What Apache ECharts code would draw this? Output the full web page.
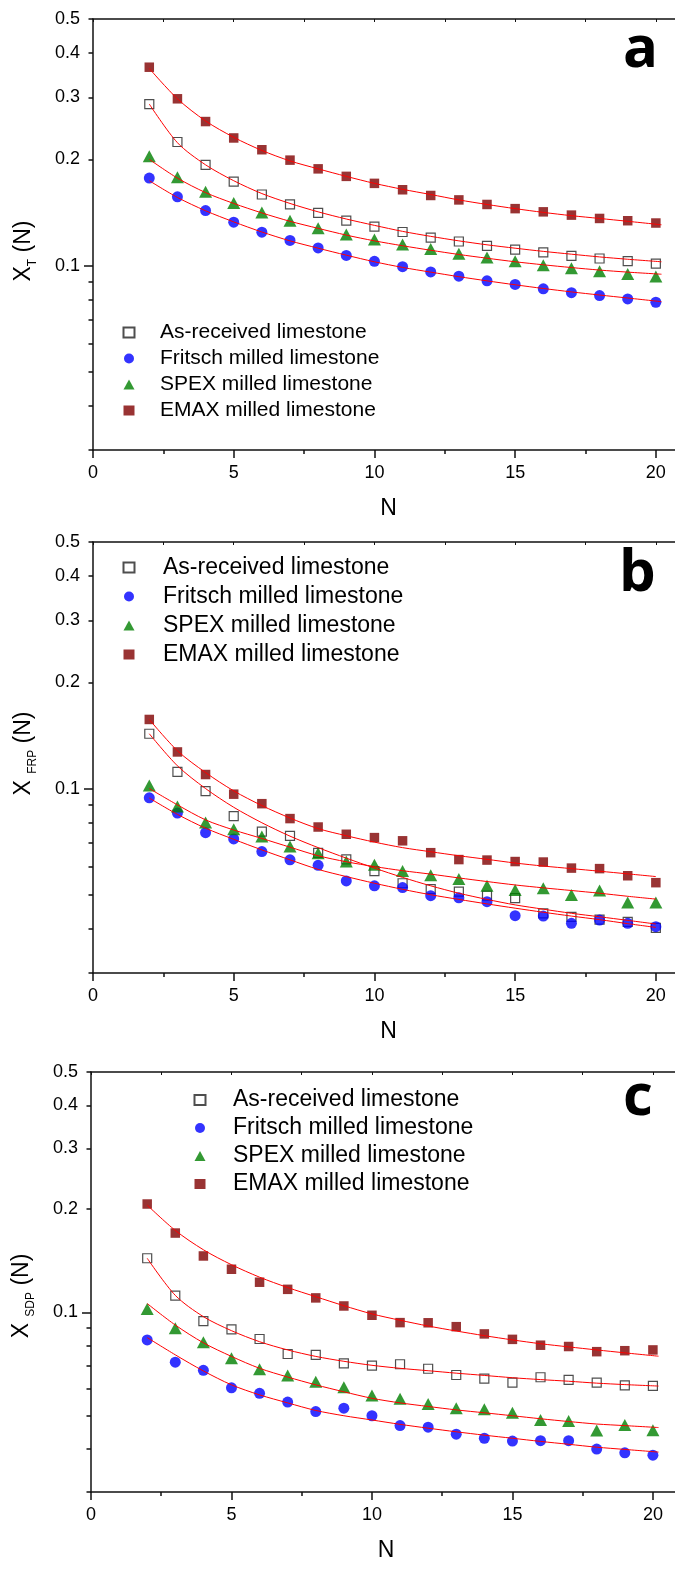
<!DOCTYPE html>
<html>
<head>
<meta charset="utf-8">
<script src="https://cdn.jsdelivr.net/npm/echarts@6/dist/echarts.min.js"></script>
<style>html,body{margin:0;padding:0;background:#fff}#chart{width:675px;height:1577px}</style>
</head>
<body>
<div id="chart"></div>
<script>
// ---------------- DATA ----------------
const N = [2,3,4,5,6,7,8,9,10,11,12,13,14,15,16,17,18,19,20];
const seriesNames = ['As-received limestone','Fritsch milled limestone','SPEX milled limestone','EMAX milled limestone'];
const yTickLabels = [0.1,0.2,0.3,0.4,0.5];
const yMajorTicks = [0.1];
const yMinorTicks = [0.03,0.04,0.05,0.06,0.07,0.08,0.09,0.2,0.3,0.4,0.5];
const yNames = ['{x|X}{s|T}{x| (N)}', '{x|X }{s|FRP}{x| (N)}', '{x|X }{s|SDP}{x| (N)}'];
const panelLetters = ['a','b','c'];

// Panel a: X_T(N)
const asReceivedA = [0.287,0.224,0.193,0.173,0.159,0.149,0.141,0.134,0.129,0.1245,0.120,0.117,0.1137,0.111,0.109,0.1065,0.1047,0.103,0.1013];
const fritschA    = [0.177,0.1566,0.1432,0.1327,0.1243,0.1178,0.1122,0.1068,0.1028,0.0993,0.0959,0.0933,0.0905,0.0884,0.0859,0.0838,0.0822,0.0804,0.0787];
const spexA       = [0.204,0.178,0.162,0.1505,0.1414,0.134,0.1276,0.1225,0.1186,0.1147,0.1115,0.108,0.1054,0.1028,0.1002,0.0982,0.0963,0.0946,0.0931];
const emaxA       = [0.365,0.297,0.256,0.230,0.213,0.199,0.188,0.179,0.171,0.164,0.158,0.1535,0.149,0.145,0.142,0.139,0.136,0.134,0.132];
const fitNA  = [2,3,4,5,6,7,8,9,10,11,12,13,14,15,16,17,18,19,20.2];
const fitAsA = [0.287,0.223,0.193,0.174,0.160,0.150,0.142,0.1355,0.130,0.125,0.121,0.1175,0.1145,0.112,0.1097,0.1077,0.1058,0.1042,0.1025];
const fitFrA = [0.174,0.156,0.143,0.133,0.1245,0.1175,0.112,0.107,0.1025,0.0988,0.0958,0.093,0.0905,0.0882,0.0861,0.0842,0.0825,0.0809,0.0790];
const fitSpA = [0.200,0.177,0.161,0.150,0.141,0.1335,0.1275,0.122,0.1175,0.1138,0.1105,0.1075,0.1049,0.1025,0.1005,0.0987,0.0971,0.0958,0.0945];
const fitEmA = [0.362,0.297,0.257,0.231,0.212,0.198,0.188,0.179,0.171,0.1645,0.159,0.1535,0.149,0.145,0.1415,0.1385,0.136,0.1335,0.1305];

// Panel b: X_FRP(N)
const asReceivedB = [0.143,0.1115,0.0983,0.0835,0.0755,0.0734,0.0657,0.063,0.0583,0.0539,0.0519,0.051,0.0497,0.0489,0.0443,0.0433,0.0425,0.0419,0.0403];
const fritschB    = [0.0941,0.0852,0.075,0.072,0.0663,0.0628,0.0606,0.0547,0.053,0.0524,0.0497,0.049,0.0478,0.0436,0.0435,0.0415,0.0424,0.0415,0.0406];
const spexB       = [0.102,0.0889,0.0801,0.0767,0.0731,0.0685,0.0656,0.0621,0.0608,0.0584,0.0568,0.0554,0.053,0.0516,0.0522,0.0499,0.0514,0.0475,0.0475];
const emaxB       = [0.157,0.127,0.1096,0.0964,0.0906,0.0822,0.0778,0.0742,0.0726,0.0711,0.0658,0.0629,0.0627,0.0621,0.0619,0.0595,0.0593,0.0566,0.0541];
const fitNB  = [2,3,4,5,6,7,8,9,10,11,12,13,14,15,16,17,18,19,20];
const fitAsB = [0.143,0.116,0.100,0.0885,0.080,0.0733,0.068,0.0635,0.0595,0.056,0.053,0.0505,0.0485,0.0468,0.0455,0.0443,0.0433,0.0423,0.0413];
const fitFrB = [0.094,0.0845,0.0772,0.0718,0.067,0.0628,0.059,0.0563,0.0539,0.0518,0.050,0.0485,0.0471,0.0458,0.0446,0.0435,0.0425,0.0414,0.0404];
const fitSpB = [0.100,0.0899,0.0815,0.0763,0.0722,0.0682,0.0645,0.062,0.0601,0.0585,0.0572,0.0558,0.0545,0.0533,0.0523,0.0514,0.0505,0.0495,0.0486];
const fitEmB = [0.157,0.128,0.111,0.0985,0.0895,0.0825,0.077,0.0735,0.0705,0.068,0.0662,0.0645,0.063,0.0615,0.0603,0.0593,0.0583,0.0573,0.0563];

// Panel c: X_SDP(N)
const asReceivedC = [0.1436,0.1118,0.0943,0.0892,0.0836,0.0756,0.0752,0.071,0.0699,0.0706,0.0685,0.0657,0.0641,0.0624,0.0647,0.0636,0.0624,0.0613,0.0611];
const fritschC    = [0.0831,0.0716,0.0678,0.0603,0.0581,0.0548,0.0514,0.0526,0.05,0.0468,0.0463,0.0442,0.043,0.0422,0.0423,0.0423,0.04,0.039,0.0384];
const spexC       = [0.1022,0.0898,0.0818,0.0735,0.0683,0.0655,0.0628,0.0605,0.0573,0.056,0.0541,0.0526,0.0522,0.051,0.0486,0.0483,0.0453,0.047,0.0454];
const emaxC       = [0.2065,0.170,0.1458,0.1334,0.1223,0.1166,0.1101,0.1043,0.098,0.0933,0.0932,0.0908,0.0865,0.0834,0.0802,0.0795,0.0768,0.0773,0.0777];
const fitNC  = [2,3,4,5,6,7,8,9,10,11,12,13,14,15,16,17,18,19,20.2];
const fitAsC = [0.1436,0.112,0.0971,0.0884,0.0821,0.0777,0.0744,0.072,0.0701,0.0687,0.0676,0.0665,0.0655,0.0645,0.0637,0.063,0.0622,0.0616,0.061];
const fitFrC = [0.0844,0.0752,0.0675,0.0615,0.0575,0.0545,0.0518,0.050,0.0486,0.0472,0.046,0.0449,0.0439,0.043,0.0421,0.0413,0.0405,0.0399,0.0392];
const fitSpC = [0.106,0.0918,0.0815,0.0744,0.0687,0.0648,0.0615,0.0587,0.0562,0.0545,0.0532,0.052,0.051,0.050,0.049,0.0481,0.0473,0.0468,0.0462];
const fitEmC = [0.205,0.173,0.152,0.1375,0.1265,0.118,0.111,0.1045,0.0989,0.0948,0.0912,0.0882,0.0855,0.0831,0.081,0.0793,0.0777,0.0762,0.0745];

// ---------------- BUILD ----------------
const FONT = '"Liberation Sans", Arial, sans-serif';
const AX = '#111';
const panels = [
  {pts:[asReceivedA,fritschA,spexA,emaxA], fitN:fitNA, fits:[fitAsA,fitFrA,fitSpA,fitEmA],
   grid:{left:93,top:19,width:591,height:431}, nameGap:54, namePad:[0,33,0,0],
   legend:{left:122.5,top:322,pad:20.5,itemGap:5,fontSize:21}, title:{left:618,top:16}},
  {pts:[asReceivedB,fritschB,spexB,emaxB], fitN:fitNB, fits:[fitAsB,fitFrB,fitSpB,fitEmB],
   grid:{left:93,top:542,width:591,height:431}, nameGap:54, namePad:[0,0,0,8],
   legend:{left:122.5,top:556,pad:23.5,itemGap:6,fontSize:23}, title:{left:614,top:540}},
  {pts:[asReceivedC,fritschC,spexC,emaxC], fitN:fitNC, fits:[fitAsC,fitFrC,fitSpC,fitEmC],
   grid:{left:91,top:1072,width:590,height:420}, nameGap:54, namePad:[0,28,0,0],
   legend:{left:193.5,top:1088.5,pad:22.5,itemGap:5,fontSize:23}, title:{left:618,top:1064}}
];
const markerStyles = [
  {symbol:'rect', symbolSize:9, itemStyle:{color:'#ffffff', borderColor:'#222', borderWidth:1.2}},
  {symbol:'circle', symbolSize:11, itemStyle:{color:'#0000ff'}},
  {symbol:'triangle', symbolSize:[13,12], itemStyle:{color:'#008000'}},
  {symbol:'rect', symbolSize:9.5, itemStyle:{color:'#800000'}}
];

const grids=[], xAxes=[], yAxes=[], series=[], legends=[], titles=[];
const fmtY = v => String(Math.round(v*100)/100);
panels.forEach((p, i) => {
  grids.push(Object.assign({outerBoundsMode:'none', containLabel:false}, p.grid));
  const lineSt = {color:AX, width:1.5};
  xAxes.push({gridIndex:i, type:'value', min:0, max:21, interval:5, position:'bottom',
    axisLine:{show:true, onZero:false, lineStyle:lineSt},
    axisTick:{show:true, inside:false, length:8, lineStyle:lineSt},
    axisLabel:{show:true, margin:14, fontSize:18, color:'#000', fontFamily:FONT,
      formatter: v => (v % 5 === 0 && v <= 20) ? String(v) : ''},
    splitLine:{show:false},
    name:'N', nameLocation:'middle', nameGap:47, nameMoveOverlap:false,
    nameTextStyle:{fontSize:23, color:'#000', fontFamily:FONT}});
  xAxes.push({gridIndex:i, type:'value', min:0, max:21, interval:2.5, position:'bottom',
    axisLine:{show:false, onZero:false}, axisTick:{show:true, inside:false, length:4, lineStyle:lineSt},
    axisLabel:{show:false}, splitLine:{show:false}});
  xAxes.push({gridIndex:i, type:'value', min:0, max:21, interval:2.5, position:'top',
    axisLine:{show:true, onZero:false, lineStyle:lineSt}, axisTick:{show:true, inside:true, length:3, lineStyle:{color:AX,width:1}},
    axisLabel:{show:false}, splitLine:{show:false}});
  yAxes.push({gridIndex:i, type:'log', logBase:10, min:0.03, max:0.5, position:'left',
    axisLine:{show:true, onZero:false, lineStyle:lineSt},
    axisTick:{show:true, inside:false, length:9, customValues:yMajorTicks, lineStyle:lineSt},
    axisLabel:{show:true, customValues:yTickLabels, formatter:fmtY, margin:13, fontSize:18, color:'#000', fontFamily:FONT},
    splitLine:{show:false}, minorTick:{show:false},
    name:yNames[i], nameLocation:'middle', nameGap:p.nameGap, nameRotate:90, nameMoveOverlap:false,
    nameTextStyle:{padding:p.namePad, color:'#000', fontFamily:FONT,
      rich:{x:{fontSize:23, lineHeight:30, fontFamily:FONT, color:'#000', verticalAlign:'middle'},
            s:{fontSize:12, lineHeight:12, fontFamily:FONT, color:'#000', verticalAlign:'bottom'}}}});
  yAxes.push({gridIndex:i, type:'log', logBase:10, min:0.03, max:0.5, position:'left',
    axisLine:{show:false, onZero:false},
    axisTick:{show:true, inside:false, length:4.5, customValues:yMinorTicks, lineStyle:lineSt},
    axisLabel:{show:false}, splitLine:{show:false}});

  p.pts.forEach((arr, k) => {
    series.push(Object.assign({type:'scatter', name:seriesNames[k], xAxisIndex:3*i, yAxisIndex:2*i,
      data:N.map((n, j) => [n, arr[j]]), z:2, silent:true}, JSON.parse(JSON.stringify(markerStyles[k]))));
  });
  p.fits.forEach((arr, k) => {
    series.push({type:'line', name:'fit '+seriesNames[k]+' '+i, xAxisIndex:3*i, yAxisIndex:2*i,
      data:p.fitN.map((n, j) => [n, arr[j]]), smooth:0.3,
      showSymbol:false, symbol:'none', lineStyle:{color:'#ff0000', width:1}, z:3, silent:true});
  });
  legends.push({left:p.legend.left, top:p.legend.top, orient:'vertical', itemWidth:11,
    itemHeight:10, itemGap:p.legend.itemGap, selectedMode:false, padding:0,
    textStyle:{fontSize:p.legend.fontSize, color:'#000', fontFamily:FONT, padding:[0,0,0,p.legend.pad]},
    data:seriesNames.slice()});
  titles.push({text:panelLetters[i], left:p.title.left, top:p.title.top,
    textStyle:{fontFamily:'"Open Sans", sans-serif', fontWeight:'bold', fontSize:58, color:'#000'}});
});

const chart = echarts.init(document.getElementById('chart'), null, {renderer:'canvas'});
chart.setOption({animation:false, backgroundColor:'#fff', title:titles, legend:legends,
  grid:grids, xAxis:xAxes, yAxis:yAxes, series:series});
</script>
</body>
</html>
